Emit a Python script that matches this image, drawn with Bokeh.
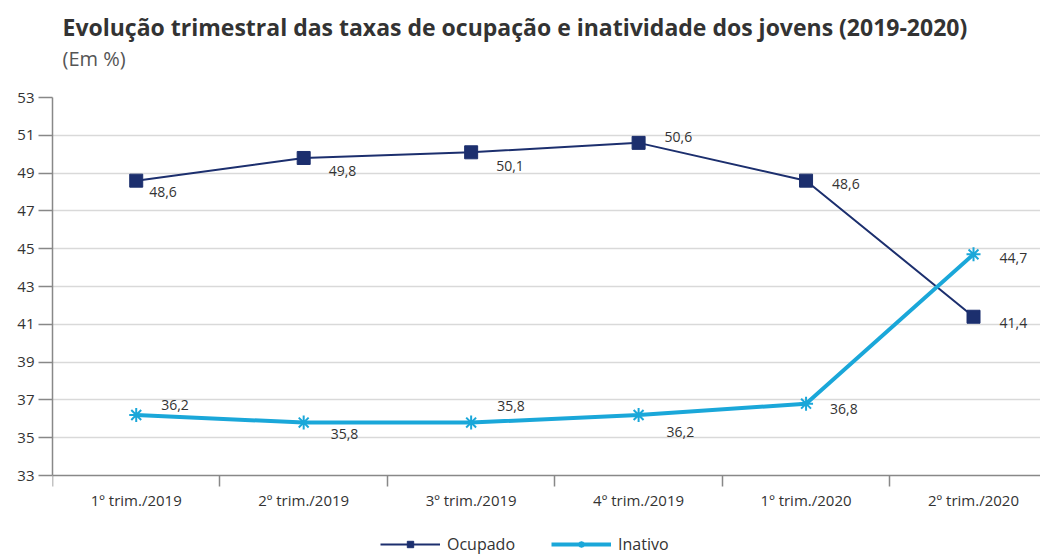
from bokeh.plotting import figure
from bokeh.models import (FixedTicker, Range1d, Title, Legend, LegendItem,
                          ColumnDataSource, LabelSet)
from bokeh.core.properties import value
from bokeh.embed import file_html
from bokeh.resources import INLINE

categories = ["1º trim./2019", "2º trim./2019", "3º trim./2019",
              "4º trim./2019", "1º trim./2020", "2º trim./2020"]
ocupado = [48.6, 49.8, 50.1, 50.6, 48.6, 41.4]
inativo = [36.2, 35.8, 35.8, 36.2, 36.8, 44.7]
y_ticks = list(range(33, 54, 2))

# label placement (screen px, style only)
ocu_dx = [13, 25, 25, 26, 26, 26]
ocu_dy = [-11, -13, -14, 6, -3, -6]
ina_dx = [25, 27, 26, 28, 24, 26]
ina_dy = [10, -11, 17, -17, -5, -4]

NAVY = "#1c2f6e"
CYAN = "#1aa7d9"
TXT = "#333333"
FONT = "Open Sans"

# layout: axis area 378 px tall for 33..53, plus 82 px below for labels/legend
Y_MIN, Y_MAX = y_ticks[0], y_ticks[-1]
PX_PER_UNIT = 378 / (Y_MAX - Y_MIN)
y_start = Y_MIN - 82 / PX_PER_UNIT

xs = [i + 0.5 for i in range(len(categories))]
fmt = lambda v: f"{v:.1f}".replace(".", ",")

src_o = ColumnDataSource(dict(x=xs, y=ocupado, t=[fmt(v) for v in ocupado],
                              dx=ocu_dx, dy=ocu_dy))
src_i = ColumnDataSource(dict(x=xs, y=inativo, t=[fmt(v) for v in inativo],
                              dx=ina_dx, dy=ina_dy))

p = figure(width=1040, height=557, frame_width=988, frame_height=460,
           x_range=Range1d(0, 5.9), y_range=Range1d(y_start, Y_MAX),
           output_backend="svg", toolbar_location=None, title=None,
           min_border_left=52, min_border_right=0, min_border_top=97,
           min_border_bottom=0)
p.outline_line_color = None
p.background_fill_color = "white"
p.border_fill_color = "white"

# spacer between plot area and subtitle
p.add_layout(Title(text=" ", text_font=FONT, text_font_size="18px",
                   standoff=0), "above")
p.add_layout(Title(text="(Em %)", text_font=FONT, text_font_size="20px",
                   text_font_style="normal", text_color="#555555",
                   offset=10, standoff=0), "above")
p.add_layout(Title(text="Evolução trimestral das taxas de ocupação e inatividade dos jovens (2019-2020)",
                   text_font=FONT, text_font_size="23px", text_font_style="bold",
                   text_color=TXT, offset=10, standoff=0), "above")

# x axis drawn at y = 33
p.xaxis.fixed_location = Y_MIN
p.xaxis.ticker = FixedTicker(ticks=xs, minor_ticks=list(range(0, 7)))
p.xaxis.major_label_overrides = {x: c for x, c in zip(xs, categories)}
p.xaxis.major_tick_out = 0
p.xaxis.major_tick_in = 0
p.xaxis.minor_tick_out = 11
p.xaxis.minor_tick_in = 0
p.xaxis.minor_tick_line_color = "#888888"
p.xaxis.minor_tick_line_width = 1.5
p.xaxis.major_label_standoff = 3
p.xaxis.major_label_text_font = FONT
p.xaxis.major_label_text_font_size = "15px"
p.xaxis.major_label_text_color = TXT
p.xaxis.axis_line_color = "#888888"
p.xaxis.axis_line_width = 1.5

p.yaxis.bounds = (Y_MIN, Y_MAX)
p.yaxis.ticker = FixedTicker(ticks=y_ticks, minor_ticks=[])
p.yaxis.major_tick_out = 14
p.yaxis.major_tick_in = 0
p.yaxis.major_tick_line_color = "#888888"
p.yaxis.major_tick_line_width = 1.5
p.yaxis.major_label_standoff = 4
p.yaxis.major_label_text_font = FONT
p.yaxis.major_label_text_font_size = "15px"
p.yaxis.major_label_text_color = TXT
p.yaxis.axis_line_color = "#888888"
p.yaxis.axis_line_width = 1.5

p.xgrid.visible = False
p.ygrid.ticker = FixedTicker(ticks=y_ticks[1:])
p.ygrid.grid_line_color = "#d9d9d9"
p.ygrid.grid_line_width = 1.5

# series
lo = p.line("x", "y", source=src_o, line_color=NAVY, line_width=2)
so = p.scatter("x", "y", source=src_o, marker="square", size=13,
               fill_color=NAVY, line_color=NAVY)
li = p.line("x", "y", source=src_i, line_color=CYAN, line_width=4)
si = p.scatter("x", "y", source=src_i, marker="asterisk", size=14,
               line_color=CYAN, line_width=2)

for s in (src_o, src_i):
    p.add_layout(LabelSet(x="x", y="y", text="t", source=s, x_offset="dx",
                          y_offset="dy", text_font=value(FONT),
                          text_font_size="14px", text_color=TXT,
                          text_baseline="middle", text_align="left"))

legend = Legend(items=[LegendItem(label="Ocupado", renderers=[lo, so]),
                       LegendItem(label="Inativo", renderers=[li, si])],
                orientation="horizontal", location=(326, 0),
                glyph_width=60, glyph_height=16, spacing=36,
                label_standoff=7,
                label_text_font=FONT, label_text_font_size="16px",
                label_text_color=TXT, border_line_alpha=0,
                background_fill_alpha=0, padding=2, margin=0)
p.add_layout(legend)

open("out.html", "w").write(file_html(p, INLINE))
